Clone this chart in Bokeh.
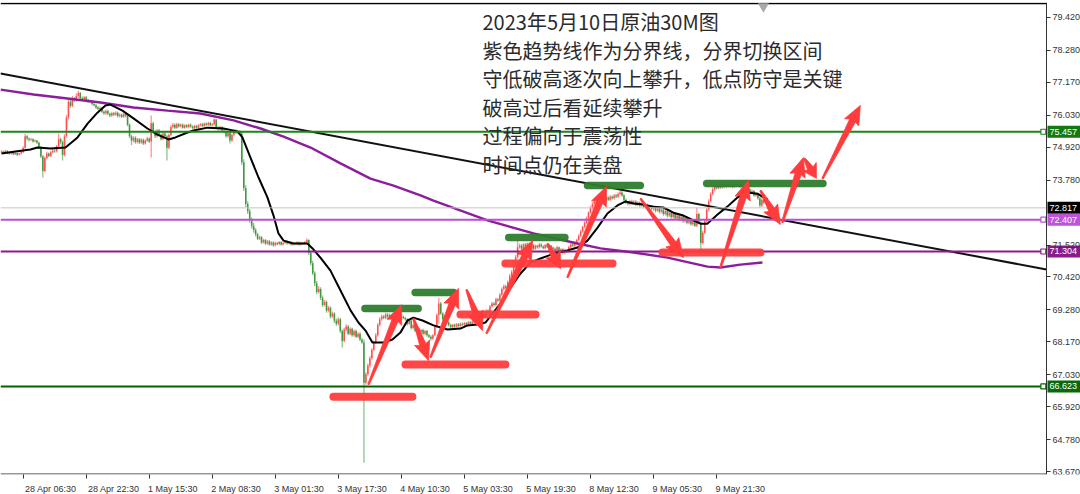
import math
import numpy as np
from bokeh.plotting import figure
from bokeh.models import FixedTicker, NumeralTickFormatter
from bokeh.core.properties import value
from bokeh.embed import file_html
from bokeh.resources import INLINE

# ---------------- data: crude oil, 30-minute bars ----------------
first_open = 74.74
closes = [
    74.77, 74.74, 74.79, 74.72, 74.70, 74.74, 74.68, 74.72, 74.66, 74.70,
    74.75, 74.90, 75.30, 75.22, 75.18, 75.20, 75.12, 75.15, 75.08, 74.92,
    74.60, 74.10, 74.55, 74.70, 74.62, 74.75, 74.80, 74.78, 74.95, 75.20,
    75.10, 74.65, 75.30, 75.95, 76.50, 76.35, 76.62, 76.55, 76.70, 76.80,
    76.62, 76.58, 76.65, 76.55, 76.50, 76.52, 76.42, 76.38, 76.30, 76.25,
    76.28, 76.15, 76.10, 76.18, 76.08, 76.02, 76.10, 76.05, 76.12, 76.00,
    76.05, 75.98, 76.06, 76.00, 75.70, 75.30, 75.15, 75.25, 75.10, 75.20,
    75.08, 75.18, 75.05, 75.15, 75.22, 75.12, 75.75, 75.45, 75.30, 75.50,
    75.35, 75.20, 75.40, 75.30, 74.90, 75.35, 75.62, 75.70, 75.60, 75.72,
    75.65, 75.70, 75.60, 75.68, 75.62, 75.70, 75.64, 75.58, 75.66, 75.60,
    75.68, 75.72, 75.66, 75.74, 75.70, 75.76, 75.68, 75.72, 75.88, 75.60,
    75.55, 75.62, 75.50, 75.45, 75.30, 75.42, 75.15, 75.35, 75.50, 75.42,
    75.48, 75.40, 74.40, 73.50, 72.95, 72.70, 72.40, 72.20, 72.05, 71.90,
    71.75, 71.80, 71.62, 71.70, 71.58, 71.66, 71.55, 71.62, 71.52, 71.60,
    71.56, 71.63, 71.55, 71.60, 71.66, 71.58, 71.62, 71.55, 71.60, 71.57,
    71.62, 71.55, 71.60, 71.58, 71.63, 71.70, 71.25, 70.90, 70.55, 70.20,
    69.90, 70.00, 69.70, 69.45, 69.55, 69.25, 69.35, 69.05, 69.15, 68.90,
    68.80, 68.95, 68.55, 68.20, 68.60, 68.70, 68.45, 68.62, 68.40, 68.55,
    68.35, 68.45, 68.25, 68.15, 66.75, 67.05, 67.35, 67.60, 67.90, 68.15,
    68.40, 68.75, 68.95, 69.05, 69.00, 69.12, 69.05, 69.10, 69.02, 69.08,
    69.00, 69.06, 68.98, 69.04, 69.00, 68.95, 68.80, 68.90, 68.65, 68.75,
    68.55, 68.62, 68.50, 68.58, 68.45, 68.55, 68.40, 68.35, 68.28, 68.40,
    68.70, 69.10, 69.50, 69.15, 68.95, 69.05, 68.85, 68.75, 68.68, 68.76,
    68.70, 68.78, 68.72, 68.80, 68.76, 68.82, 68.78, 68.85, 68.80, 68.88,
    68.84, 68.90, 68.86, 68.95, 69.10, 69.05, 69.25, 69.20, 69.40, 69.50,
    69.45, 69.65, 69.60, 69.80, 70.00, 70.10, 70.05, 70.25, 70.45, 70.60,
    70.80, 71.10, 71.45, 71.50, 71.40, 71.55, 71.48, 71.58, 71.45, 71.52,
    71.40, 71.50, 71.45, 71.55, 71.48, 71.42, 71.52, 71.46, 71.50, 71.44,
    71.40, 71.35, 71.45, 71.30, 71.38, 71.25, 71.35, 71.30, 71.45, 71.55,
    71.50, 71.60, 71.70, 71.85, 72.00, 72.15, 72.30, 72.45, 72.65, 72.80,
    72.95, 73.05, 72.95, 73.10, 73.02, 73.15, 73.05, 73.18, 73.10, 73.20,
    73.15, 73.25, 73.20, 73.30, 73.35, 73.25, 73.10, 73.00, 72.95, 73.05,
    72.98, 73.04, 72.92, 73.00, 72.90, 72.96, 72.85, 72.92, 72.80, 72.88,
    72.78, 72.85, 72.72, 72.80, 72.68, 72.75, 72.60, 72.70, 72.55, 72.65,
    72.50, 72.62, 72.45, 72.55, 72.40, 72.52, 72.35, 72.48, 72.30, 72.42,
    72.25, 72.38, 72.20, 72.60, 72.30, 71.60, 71.95, 72.35, 72.75, 73.05,
    73.30, 73.45, 73.55, 73.50, 73.58, 73.52, 73.60, 73.55, 73.62, 73.56,
    73.60, 73.54, 73.62, 73.57, 73.63, 73.55, 73.60, 73.52, 73.58, 73.45,
    73.35, 73.40, 73.25, 73.30, 73.15, 72.90, 73.10, 73.00, 73.05, 72.82,
]
highs = [
    74.82, 74.80, 74.83, 74.82, 74.75, 74.78, 74.76, 74.75, 74.74, 74.73,
    74.80, 74.95, 75.40, 75.34, 75.26, 75.25, 75.23, 75.19, 75.17, 75.11,
    74.96, 74.65, 74.60, 74.76, 74.74, 74.80, 74.86, 74.84, 75.00, 75.40,
    75.26, 75.15, 75.38, 76.05, 76.62, 76.58, 76.70, 76.66, 76.78, 76.88,
    76.84, 76.68, 76.70, 76.70, 76.60, 76.57, 76.56, 76.47, 76.42, 76.35,
    76.33, 76.32, 76.20, 76.23, 76.22, 76.12, 76.15, 76.14, 76.17, 76.16,
    76.10, 76.09, 76.11, 76.10, 76.04, 75.74, 75.36, 75.30, 75.30, 75.25,
    75.24, 75.23, 75.22, 75.20, 75.28, 75.26, 76.02, 75.80, 75.50, 75.55,
    75.55, 75.40, 75.45, 75.44, 75.34, 75.40, 75.68, 75.76, 75.74, 75.77,
    75.76, 75.74, 75.74, 75.72, 75.72, 75.74, 75.74, 75.68, 75.70, 75.70,
    75.72, 75.76, 75.76, 75.78, 75.78, 75.80, 75.80, 75.76, 75.92, 75.90,
    75.65, 75.66, 75.66, 75.54, 75.49, 75.46, 75.45, 75.40, 75.55, 75.54,
    75.52, 75.52, 75.44, 74.50, 73.60, 73.05, 72.78, 72.48, 72.30, 72.12,
    71.95, 71.86, 71.84, 71.75, 71.74, 71.70, 71.70, 71.66, 71.66, 71.64,
    71.64, 71.67, 71.66, 71.64, 71.70, 71.69, 71.66, 71.65, 71.64, 71.63,
    71.66, 71.65, 71.64, 71.63, 71.67, 71.76, 71.73, 71.32, 70.98, 70.62,
    70.28, 70.10, 70.06, 69.78, 69.62, 69.60, 69.42, 69.40, 69.22, 69.20,
    68.98, 69.02, 69.00, 68.60, 68.66, 68.78, 68.75, 68.68, 68.66, 68.60,
    68.60, 68.50, 68.50, 68.30, 68.25, 67.12, 67.42, 67.68, 67.96, 68.22,
    68.48, 68.82, 69.02, 69.12, 69.10, 69.18, 69.16, 69.15, 69.14, 69.13,
    69.12, 69.10, 69.10, 69.08, 69.08, 69.04, 68.99, 68.95, 68.94, 68.80,
    68.80, 68.67, 68.66, 68.62, 68.62, 68.59, 68.58, 68.44, 68.40, 68.44,
    68.76, 69.16, 69.70, 69.55, 69.20, 69.10, 69.08, 68.90, 68.80, 68.80,
    68.80, 68.82, 68.82, 68.84, 68.84, 68.86, 68.86, 68.89, 68.89, 68.92,
    68.92, 68.94, 68.94, 69.00, 69.15, 69.14, 69.30, 69.30, 69.45, 69.56,
    69.55, 69.70, 69.70, 69.86, 70.06, 70.16, 70.15, 70.30, 70.52, 70.66,
    70.88, 71.18, 71.68, 71.58, 71.56, 71.60, 71.60, 71.62, 71.62, 71.56,
    71.56, 71.55, 71.54, 71.60, 71.59, 71.52, 71.56, 71.56, 71.54, 71.54,
    71.48, 71.44, 71.50, 71.48, 71.42, 71.42, 71.40, 71.38, 71.50, 71.60,
    71.60, 71.65, 71.75, 71.90, 72.06, 72.20, 72.36, 72.52, 72.70, 72.88,
    73.02, 73.12, 73.10, 73.16, 73.14, 73.20, 73.20, 73.24, 73.22, 73.26,
    73.25, 73.30, 73.30, 73.36, 73.44, 73.40, 73.30, 73.14, 73.05, 73.10,
    73.10, 73.08, 73.08, 73.05, 73.04, 73.00, 73.00, 72.96, 72.96, 72.92,
    72.92, 72.90, 72.90, 72.85, 72.84, 72.80, 72.80, 72.75, 72.74, 72.70,
    72.70, 72.68, 72.66, 72.60, 72.60, 72.58, 72.56, 72.52, 72.52, 72.48,
    72.46, 72.42, 72.42, 72.83, 72.65, 72.35, 72.02, 72.42, 72.82, 73.12,
    73.36, 73.52, 73.62, 73.60, 73.63, 73.62, 73.65, 73.64, 73.66, 73.66,
    73.65, 73.64, 73.66, 73.66, 73.67, 73.66, 73.64, 73.64, 73.62, 73.62,
    73.50, 73.45, 73.44, 73.35, 73.34, 73.20, 73.15, 73.14, 73.10, 73.10,
]
lows = [
    74.71, 74.70, 74.71, 74.68, 74.66, 74.67, 74.64, 74.65, 74.62, 74.64,
    74.67, 74.72, 74.86, 75.15, 75.12, 75.14, 75.08, 75.09, 75.03, 74.88,
    74.55, 73.87, 74.05, 74.50, 74.57, 74.58, 74.70, 74.73, 74.74, 74.90,
    75.02, 74.46, 74.60, 75.25, 75.88, 76.28, 76.30, 76.48, 76.50, 76.64,
    76.57, 76.53, 76.54, 76.50, 76.45, 76.46, 76.37, 76.33, 76.25, 76.20,
    76.20, 76.10, 76.05, 76.05, 76.03, 75.96, 75.97, 76.00, 76.01, 75.95,
    75.95, 75.93, 75.94, 75.95, 75.65, 75.24, 75.00, 75.08, 75.04, 75.05,
    75.03, 75.04, 75.00, 75.01, 75.10, 75.07, 74.56, 75.40, 75.24, 75.26,
    75.30, 75.15, 75.16, 75.25, 74.46, 74.85, 75.30, 75.57, 75.55, 75.56,
    75.60, 75.61, 75.56, 75.56, 75.58, 75.58, 75.60, 75.54, 75.54, 75.56,
    75.56, 75.64, 75.62, 75.62, 75.66, 75.66, 75.64, 75.64, 75.68, 75.55,
    75.50, 75.50, 75.46, 75.40, 75.25, 75.26, 75.05, 75.10, 75.30, 75.38,
    75.38, 75.35, 74.30, 73.40, 72.85, 72.60, 72.30, 72.10, 71.95, 71.82,
    71.70, 71.70, 71.56, 71.58, 71.53, 71.54, 71.50, 71.50, 71.47, 71.48,
    71.51, 71.52, 71.50, 71.52, 71.56, 71.54, 71.55, 71.50, 71.51, 71.52,
    71.53, 71.50, 71.51, 71.53, 71.54, 71.58, 71.18, 70.82, 70.48, 70.10,
    69.82, 69.85, 69.62, 69.38, 69.40, 69.18, 69.20, 68.98, 69.00, 68.82,
    68.72, 68.74, 68.48, 67.97, 68.15, 68.55, 68.40, 68.40, 68.35, 68.35,
    68.30, 68.30, 68.20, 68.10, 63.98, 66.68, 66.98, 67.28, 67.55, 67.85,
    68.10, 68.35, 68.70, 68.90, 68.95, 68.95, 69.00, 69.00, 68.98, 68.97,
    68.95, 68.96, 68.93, 68.94, 68.95, 68.90, 68.74, 68.76, 68.60, 68.60,
    68.50, 68.50, 68.45, 68.46, 68.40, 68.40, 68.35, 68.30, 68.22, 68.24,
    68.36, 68.65, 68.80, 69.10, 68.90, 68.90, 68.80, 68.70, 68.63, 68.64,
    68.65, 68.66, 68.68, 68.68, 68.72, 68.72, 68.74, 68.74, 68.76, 68.76,
    68.80, 68.80, 68.82, 68.82, 68.90, 69.00, 69.00, 69.15, 69.15, 69.35,
    69.40, 69.40, 69.55, 69.55, 69.75, 69.95, 70.00, 70.00, 70.20, 70.40,
    70.55, 70.75, 71.05, 71.40, 71.35, 71.35, 71.42, 71.44, 71.40, 71.40,
    71.35, 71.36, 71.40, 71.40, 71.44, 71.38, 71.38, 71.42, 71.42, 71.40,
    71.36, 71.30, 71.30, 71.25, 71.26, 71.20, 71.20, 71.25, 71.26, 71.40,
    71.45, 71.46, 71.55, 71.65, 71.80, 71.95, 72.10, 72.25, 72.40, 72.60,
    72.75, 72.90, 72.90, 72.90, 72.96, 72.98, 73.00, 73.00, 73.05, 73.05,
    73.10, 73.10, 73.15, 73.15, 73.25, 73.20, 73.05, 72.95, 72.90, 72.90,
    72.92, 72.93, 72.88, 72.88, 72.85, 72.86, 72.80, 72.80, 72.75, 72.76,
    72.72, 72.72, 72.66, 72.68, 72.62, 72.63, 72.54, 72.55, 72.48, 72.50,
    72.44, 72.45, 72.40, 72.40, 72.35, 72.36, 72.30, 72.30, 72.25, 72.25,
    72.20, 72.20, 72.15, 72.15, 72.25, 71.34, 71.55, 71.90, 72.30, 72.70,
    73.00, 73.25, 73.40, 73.45, 73.46, 73.48, 73.48, 73.50, 73.50, 73.52,
    73.52, 73.50, 73.50, 73.53, 73.53, 73.50, 73.50, 73.48, 73.48, 73.40,
    73.30, 73.30, 73.20, 73.20, 73.10, 72.83, 72.85, 72.95, 72.95, 72.78,
]

# fast moving average (black) and slow moving average (purple), sampled by bar
ma_fast_bar = [0, 7.1, 14.7, 18.3, 24.9, 32.5, 38.6, 43.7, 48.7, 52.8, 55.3, 61.4, 67, 74.1,
               79.2, 84.8, 88.3, 94.4, 97.5, 104.6, 112.7, 119.8, 122.3, 126.4, 130.5, 135,
               138.1, 140.6, 143.2, 148.2, 151.8, 155.3, 157.9, 161.9, 167, 172.1, 177.2,
               181.2, 184.8, 188.3, 193.9, 198.5, 202.5, 206.1, 209.1, 213.7, 219.3, 226.4,
               233, 236.5, 241.6, 245.7, 249.2, 253.3, 258.4, 263.5, 268.5, 273.6, 277.7,
               282.2, 287.3, 292.4, 297.5, 302.6, 307.6, 312.7, 316.8, 320.8, 325.9, 331,
               336, 341.1, 346.2, 351.3, 354.8, 358.4, 363.5, 368.5, 373.6, 378.7, 383.8,
               386.8, 389]
ma_fast = [74.70, 74.77, 74.84, 74.91, 74.88, 74.91, 75.26, 75.74, 76.12, 76.37, 76.40, 76.19,
           75.92, 75.57, 75.36, 75.19, 75.26, 75.43, 75.50, 75.60, 75.57, 75.47, 75.26, 74.56,
           73.87, 73.18, 72.55, 71.93, 71.68, 71.58, 71.58, 71.58, 71.41, 71.09, 70.64, 69.95,
           69.26, 68.84, 68.56, 68.15, 68.15, 68.25, 68.49, 68.91, 69.01, 68.91, 68.74, 68.60,
           68.63, 68.74, 68.77, 68.84, 69.15, 69.50, 70.05, 70.54, 70.92, 71.06, 71.16, 71.27,
           71.34, 71.44, 71.68, 72.13, 72.62, 72.90, 73.04, 72.97, 72.93, 72.86, 72.83, 72.65,
           72.55, 72.38, 72.27, 72.27, 72.59, 72.86, 73.18, 73.35, 73.31, 73.18, 73.11]
ma_slow_bar = [-0.5, 16.3, 33.5, 50.3, 67, 84.3, 101, 117.8, 131.5, 143.2, 156.9, 172.1, 187.3,
               199, 212.7, 219.3, 246.7, 270.1, 292.4, 304.1, 320.8, 338.1, 358.4, 365, 375.1,
               386.3]
ma_slow = [76.92, 76.75, 76.61, 76.47, 76.30, 76.19, 76.09, 75.85, 75.57, 75.29, 74.91, 74.36,
           73.83, 73.59, 73.25, 73.07, 72.38, 71.93, 71.58, 71.41, 71.27, 71.09, 70.78, 70.75,
           70.85, 70.92]

# descending trendline
trend_bar = [-0.5, 530.5]
trend_price = [77.48, 70.68]

# horizontal price levels
level_prices = [75.457, 72.817, 72.407, 71.304, 66.623]
level_colors = ["#1c861c", "#c4c4c4", "#b94fd4", "#8b1a8b", "#006400"]
level_label_bg = ["#137a13", "#000000", "#bd55d8", "#8b1a8b", "#0a6a0a"]

# price axis ticks
price_ticks = [79.42, 78.28, 77.17, 76.03, 74.92, 73.78, 71.52, 70.42, 69.28, 68.17,
               67.03, 65.92, 64.78, 63.67]

# time axis labels, one every 32 bars
time_labels = ["28 Apr 06:30", "28 Apr 22:30", "1 May 15:30", "2 May 08:30", "3 May 01:30",
               "3 May 17:30", "4 May 10:30", "5 May 03:30", "5 May 19:30", "8 May 12:30",
               "9 May 05:30", "9 May 21:30"]
first_label_bar = 11
bars_per_label = 32

# hand-drawn annotations: (start bar, end bar, price)
red_zones = [(168.5, 208.6, 66.27), (205.1, 255.8, 67.38), (233.0, 271.1, 69.12),
             (255.8, 310.2, 70.89), (335.5, 385.3, 71.27)]
green_zones = [(184.5, 211.5, 69.33), (210.0, 229.5, 69.88), (257.5, 286.0, 71.79),
               (297.5, 324.3, 73.59), (358.0, 417.0, 73.66)]
# arrows: (tail bar, tail price, tip bar, tip price)
arrows = [(186.3, 66.69, 203.1, 69.46), (209.1, 68.98, 216.8, 67.52),
          (217.8, 67.63, 232.0, 70.02), (236.1, 69.98, 244.2, 68.56),
          (246.2, 68.46, 269.6, 71.68), (277.2, 71.58, 283.8, 70.71),
          (287.3, 70.40, 307.1, 73.56), (324.4, 73.14, 346.2, 71.09),
          (365.0, 70.75, 379.2, 73.77), (385.3, 73.42, 395.4, 72.24),
          (396.4, 72.31, 407.1, 74.56), (407.6, 74.53, 413.7, 73.84),
          (416.8, 73.83, 436.0, 76.37)]

notes = ["2023年5月10日原油30M图",
         "紫色趋势线作为分界线，分界切换区间",
         "守低破高逐次向上攀升，低点防守是关键",
         "破高过后看延续攀升",
         "过程偏向于震荡性",
         "时间点仍在美盘"]

# ---------------- figure ----------------
# The frame spans the whole width; the price scale sits at a fixed bar position
# so the coloured level boxes to its right can be drawn as glyphs.
CHART_W, FRAME_W, FRAME_H = 1046, 1080, 472
X0 = -0.5
XAX = 530.5                       # bar position of the price scale
SX = CHART_W / (XAX - X0)         # px per bar
X1 = X0 + FRAME_W / SX
Y0, Y1 = 63.569, 79.94
SY = FRAME_H / (Y1 - Y0)          # px per price unit
FONT = "Liberation Sans"
AXIS_COLOR = "#333333"

p = figure(frame_width=FRAME_W, frame_height=FRAME_H, x_range=(X0, X1), y_range=(Y0, Y1),
           output_backend="svg", toolbar_location=None, y_axis_location="right",
           min_border_left=0, min_border_top=2, min_border_right=0, min_border_bottom=20)
p.grid.visible = False
p.outline_line_color = None
p.background_fill_color = "white"
p.border_fill_color = "white"

# price axis
ya = p.yaxis[0]
ya.fixed_location = XAX
ya.ticker = FixedTicker(ticks=price_ticks)
ya.formatter = NumeralTickFormatter(format="0.000")
ya.major_label_text_font = FONT
ya.major_label_text_font_size = "9px"
ya.major_label_text_color = AXIS_COLOR
ya.major_tick_out = 4
ya.major_tick_in = 0
ya.minor_tick_line_color = None
ya.major_label_standoff = 2
ya.axis_line_color = AXIS_COLOR
ya.major_tick_line_color = AXIS_COLOR

# time axis: tick marks at the bar, label text starting just right of the mark
xa = p.xaxis[0]
tick_bars = [first_label_bar + k * bars_per_label for k in range(len(time_labels))]
centers = [b + int(round((2 + 0.5 * 4.1 * len(t)) / SX)) for b, t in zip(tick_bars, time_labels)]
xa.ticker = FixedTicker(ticks=centers, minor_ticks=tick_bars)
xa.major_label_overrides = {c: t for c, t in zip(centers, time_labels)}
xa.major_tick_line_color = None
xa.minor_tick_out = 4
xa.minor_tick_in = 0
xa.minor_tick_line_color = AXIS_COLOR
xa.major_label_text_font = FONT
xa.major_label_text_font_size = "9px"
xa.major_label_text_color = AXIS_COLOR
xa.major_label_standoff = 3
xa.axis_line_color = None

# chart border: top and bottom edges, stopping at the price scale
p.line([X0, XAX], [Y1 - 1.0 / SY] * 2, line_color="black", line_width=1.6)
p.line([X0, XAX], [Y0 + 0.5 / SY] * 2, line_color=AXIS_COLOR, line_width=1)

# ---------------- price bars ----------------
idx = np.arange(len(closes))
opens = [first_open] + closes[:-1]
up = [c >= o for o, c in zip(opens, closes)]
wick_col = ["#ff9494" if u else "#8cc38c" for u in up]
body_col = ["#ff4f4f" if u else "#3f973f" for u in up]
p.segment(x0=idx, y0=lows, x1=idx, y1=highs, line_color=wick_col, line_width=1.3)
p.segment(x0=idx, y0=opens, x1=idx, y1=closes, line_color=body_col, line_width=1.5)

# moving averages and trendline
p.line(ma_slow_bar, ma_slow, line_color="#8c1e9c", line_width=2.4)
p.line(ma_fast_bar, ma_fast, line_color="black", line_width=2)
p.line(trend_bar, trend_price, line_color="#111111", line_width=2)

# horizontal levels
for price, col in zip(level_prices, level_colors):
    lw = 1 if col == "#c4c4c4" else 2
    p.line([X0, XAX], [price, price], line_color=col, line_width=lw)
marker_prices = [pr for pr, c in zip(level_prices, level_colors) if c != "#c4c4c4"]
marker_cols = [c for c in level_colors if c != "#c4c4c4"]
p.scatter(x=[XAX - 1.6] * len(marker_prices), y=marker_prices, marker="square", size=5,
          fill_color="white", line_color=marker_cols, line_width=1.2)

# chart shift marker
p.scatter(x=[386.8], y=[Y1 - 4 / SY], marker="inverted_triangle", size=11,
          fill_color="#a9a9a9", line_color=None)

# price boxes on the scale
box_left = XAX + 1 / SX
box_w = 33 / SX
p.rect(x=[box_left + box_w / 2] * len(level_prices), y=level_prices, width=box_w,
       height=12 / SY, fill_color=level_label_bg, line_color=None)
p.text(x=[box_left + 2 / SX] * len(level_prices), y=level_prices,
       text=[f"{v:.3f}" for v in level_prices], text_font=value(FONT),
       text_font_size="9px", text_color="white", text_baseline="middle", text_align="left")

# ---------------- annotations ----------------
p.multi_line(xs=[[a, b] for a, b, _ in green_zones], ys=[[y, y] for _, _, y in green_zones],
             line_color="#2e7d2e", line_width=7.5, line_cap="round", line_alpha=0.95)
p.multi_line(xs=[[a, b] for a, b, _ in red_zones], ys=[[y, y] for _, _, y in red_zones],
             line_color="#ff3d3d", line_width=8, line_cap="round", line_alpha=0.95)


def arrow_shape(tb, tp, hb, hp, head=17.0, head_w=8.0, neck_w=3.2, tail_w=0.8):
    x0, y0 = tb * SX, tp * SY
    x1, y1 = hb * SX, hp * SY
    dx, dy = x1 - x0, y1 - y0
    length = math.hypot(dx, dy)
    ux, uy = dx / length, dy / length
    nx, ny = -uy, ux
    h = min(head, 0.5 * length)
    bx, by = x1 - ux * h, y1 - uy * h
    pts = [(x0 + nx * tail_w, y0 + ny * tail_w), (bx + nx * neck_w, by + ny * neck_w),
           (bx - ux * 2 + nx * head_w, by - uy * 2 + ny * head_w), (x1, y1),
           (bx - ux * 2 - nx * head_w, by - uy * 2 - ny * head_w),
           (bx - nx * neck_w, by - ny * neck_w), (x0 - nx * tail_w, y0 - ny * tail_w)]
    return [q[0] / SX for q in pts], [q[1] / SY for q in pts]


shapes = [arrow_shape(*a) for a in arrows]
p.patches(xs=[s[0] for s in shapes], ys=[s[1] for s in shapes],
          fill_color="#ff3b3b", line_color="#ff3b3b", line_width=0.8)

# commentary text block
text_left_px = 482
first_line_px = 19
line_step_px = 28.6
p.text(x=[X0 + text_left_px / SX] * len(notes),
       y=[Y1 - (first_line_px + i * line_step_px) / SY for i in range(len(notes))],
       text=notes, text_font=value("Noto Sans CJK SC"), text_font_size="20px",
       text_color="#2b2b2b", text_baseline="middle", text_align="left")

open("out.html", "w").write(file_html(p, INLINE))
